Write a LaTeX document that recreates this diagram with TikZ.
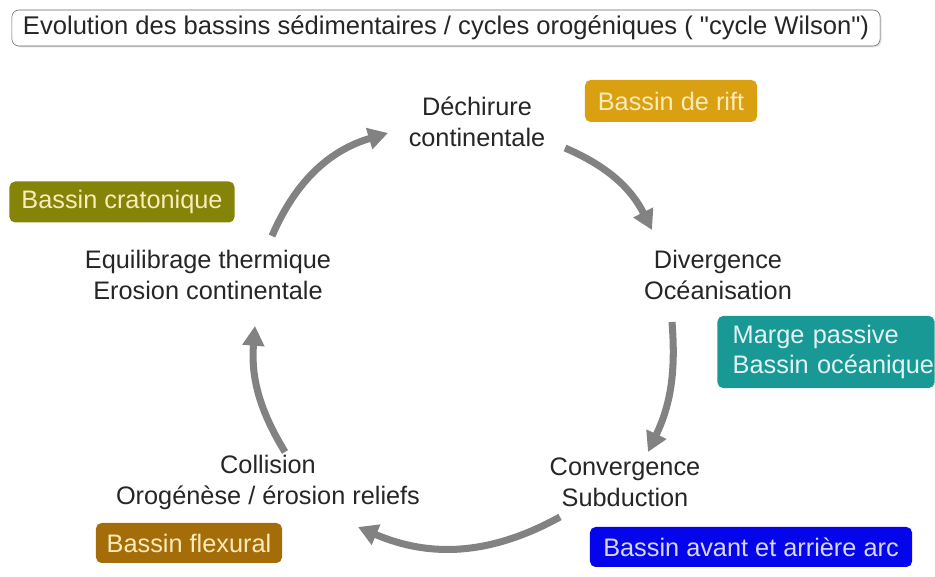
\documentclass[tikz,border=0pt]{standalone}
\usepackage{fontspec}
\setmainfont{Liberation Sans}
\usetikzlibrary{arrows.meta,shadows}

\definecolor{riftcol}{RGB}{217,160,18}
\definecolor{cratcol}{RGB}{132,132,8}
\definecolor{margecol}{RGB}{25,153,150}
\definecolor{flexcol}{RGB}{165,108,10}
\definecolor{arccol}{RGB}{5,5,235}
\definecolor{cyclegray}{RGB}{130,130,130}
\definecolor{paletxt}{RGB}{250,236,185}

\begin{document}
\begin{tikzpicture}[x=0.025cm, y=0.025cm,
  stage/.style={align=center, font=\fontsize{18}{22}\selectfont, text=black!85},
  basin/.style={rounded corners=4pt, inner sep=0pt, font=\fontsize{18}{21.5}\selectfont, text=paletxt},
  cyclearrow/.style={line width=5pt, draw=cyclegray, -{Triangle[length=14pt,width=15pt]}}
]
\useasboundingbox (0,0) rectangle (935,577);

%TITLE
\node[draw=black!60, fill=white, rounded corners=5pt, minimum width=21.7cm, minimum height=0.9cm,
  inner sep=0pt, font=\fontsize{18.2}{20}\selectfont, text=black!85,
  drop shadow={opacity=0.25, shadow xshift=1pt, shadow yshift=-1pt}] (title) at (446,549)
  {Evolution des bassins sédimentaires / cycles orogéniques ( \textquotedbl cycle Wilson\textquotedbl)};

%STAGES
\node[stage] (dechirure) at (477,455) {Déchirure\\continentale};
\node[stage] (divergence) at (718,302) {Divergence\\Océanisation};
\node[stage] (convergence) at (625,95) {Convergence\\Subduction};
\node[stage] (collision) at (268,95) {Collision\\Orogénèse / érosion reliefs};
\node[stage] (equilibrage) at (208,302) {Equilibrage thermique\\Erosion continentale};

%BASINS
\node[basin, fill=riftcol, minimum width=4.3cm, minimum height=1.05cm] (rift) at (671,476) {Bassin de rift};
\node[basin, fill=cratcol, minimum width=5.625cm, minimum height=1.025cm] (craton) at (122,375) {Bassin cratonique};
\node[basin, fill=margecol, minimum width=5.425cm, minimum height=1.8cm, align=left,
  text=white!88!margecol, text width=5.4cm] (marge) at (826,225)
  {\hspace*{10.5pt}Marge passive\\\hspace*{10.5pt}Bassin océanique};
\node[basin, fill=flexcol, minimum width=4.65cm, minimum height=1.0cm] (flexural) at (189,34) {Bassin flexural};
\node[basin, fill=arccol, minimum width=8.05cm, minimum height=1.0cm,
  text={rgb,255:red,215;green,215;blue,245}] (arc) at (751,30) {Bassin avant et arrière arc};

%CYCLE
\coordinate (a1s) at (272,341); \coordinate (a1e) at (388,444);
\coordinate (a2s) at (565,429); \coordinate (a2e) at (652,347);
\coordinate (a3s) at (672,255); \coordinate (a3e) at (648,125);
\coordinate (a4s) at (560,60);  \coordinate (a4e) at (358,50);
\coordinate (a5s) at (285,125); \coordinate (a5e) at (255,251);

\draw[cyclearrow] (a1s) to[bend left=25] (a1e);
\draw[cyclearrow] (a2s) to[bend left=20] (a2e);
\draw[cyclearrow] (a3s) to[bend left=15] (a3e);
\draw[cyclearrow] (a4s) to[bend left=26] (a4e);
\draw[cyclearrow] (a5s) to[bend left=18] (a5e);
\end{tikzpicture}
\end{document}
